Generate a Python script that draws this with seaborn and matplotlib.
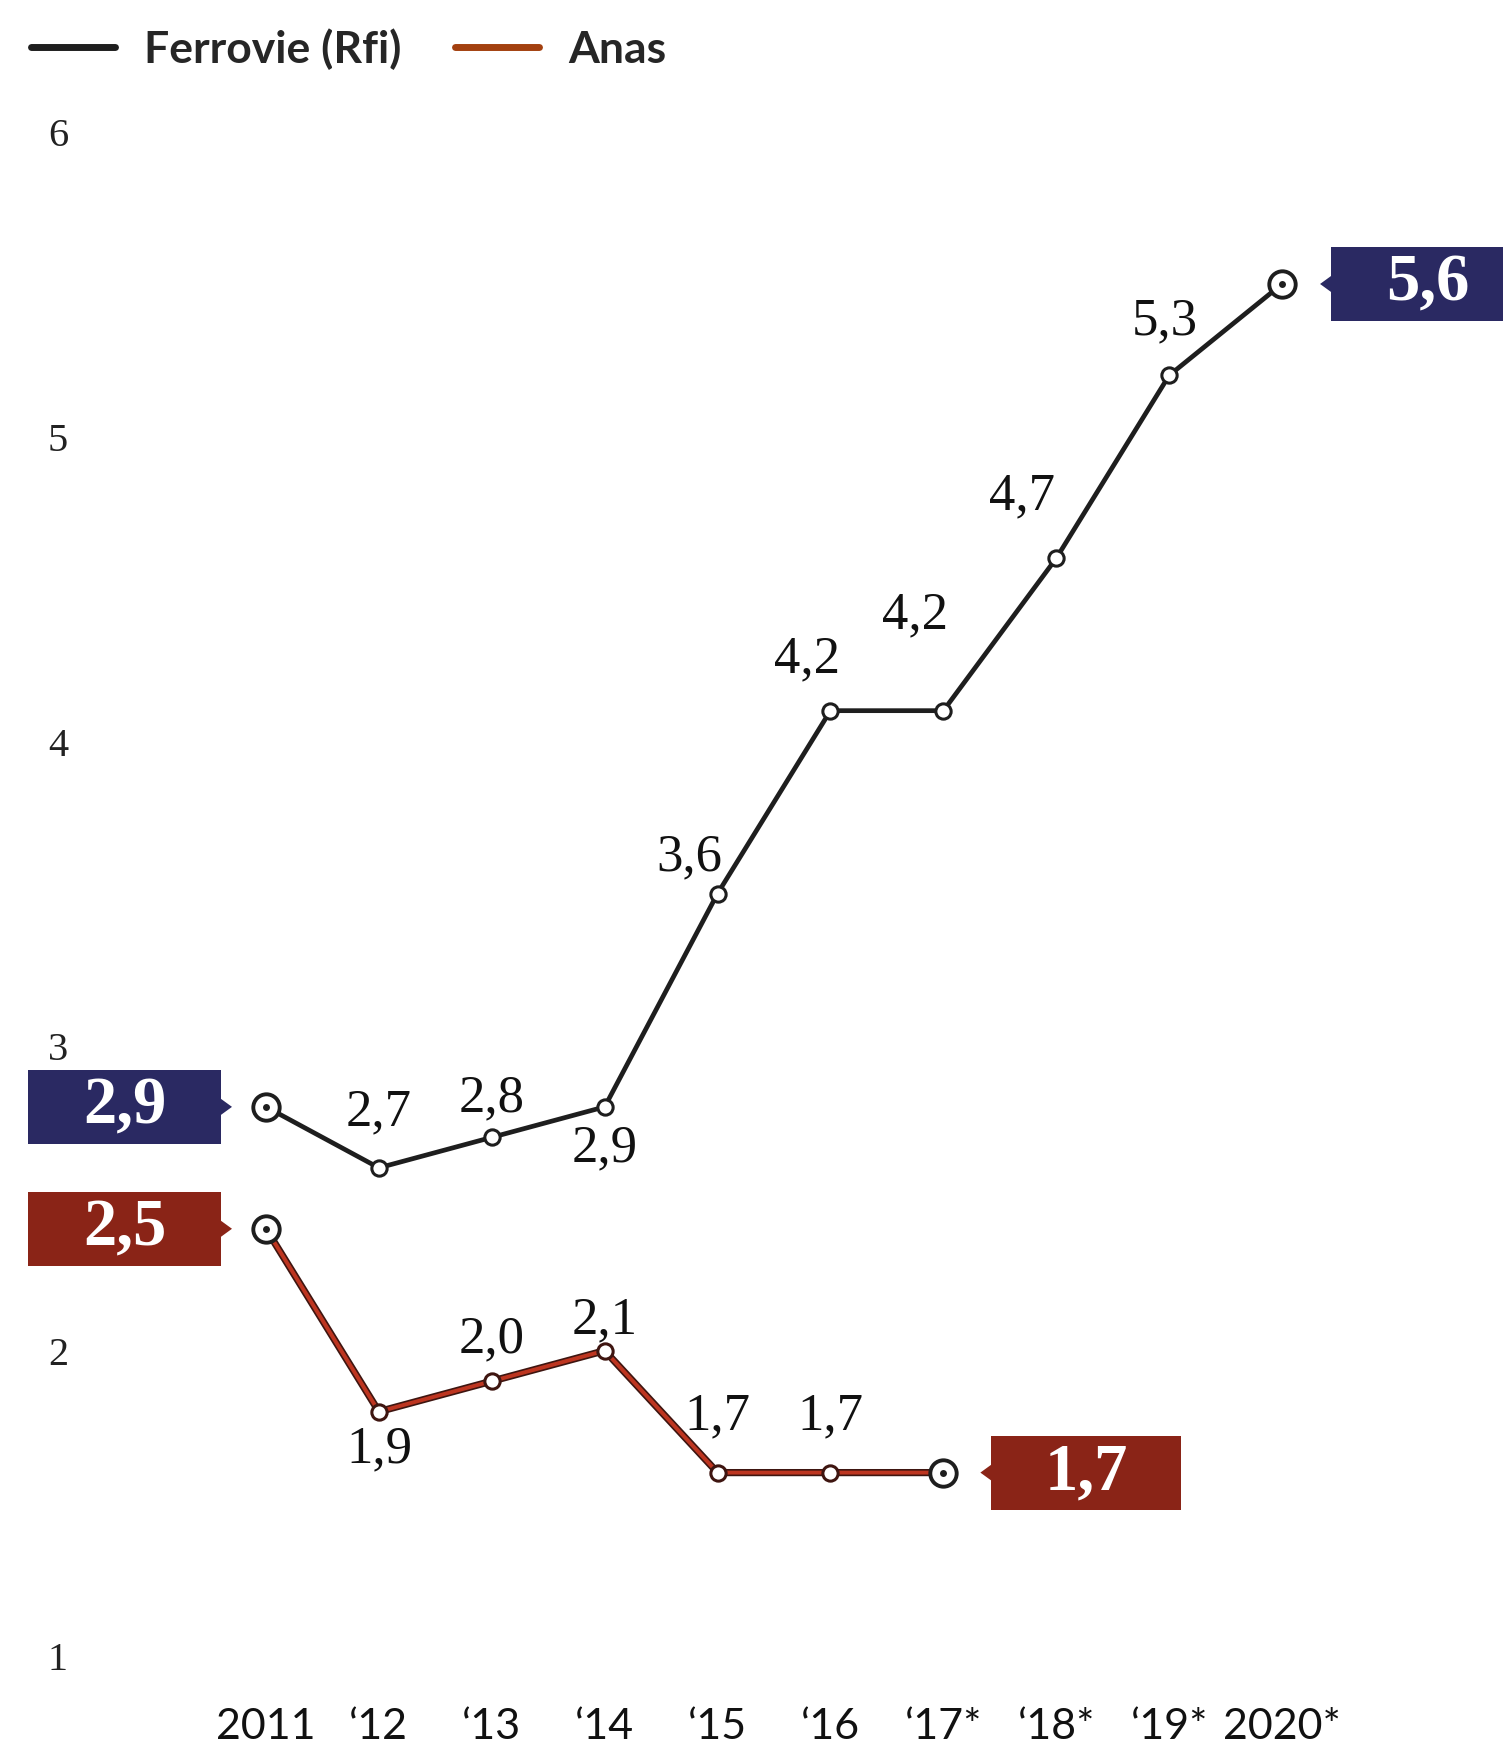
import matplotlib
matplotlib.use("Agg")
import numpy as np
import pandas as pd
import seaborn as sns
import matplotlib.pyplot as plt
import matplotlib.patheffects as pe
from matplotlib.transforms import ScaledTranslation
from matplotlib.patches import Rectangle, Polygon
from matplotlib.lines import Line2D

# ---------------- data ----------------
years = ['2011', '\u201812', '\u201813', '\u201814', '\u201815', '\u201816',
         '\u201817*', '\u201818*', '\u201819*', '2020*']
ferrovie = [2.9, 2.7, 2.8, 2.9, 3.6, 4.2, 4.2, 4.7, 5.3, 5.6]
anas = [2.5, 1.9, 2.0, 2.1, 1.7, 1.7, 1.7]
y_ticks = [1, 2, 3, 4, 5, 6]
series_names = ['Ferrovie (Rfi)', 'Anas']

# ---------------- styles ----------------
DARK = '#1e1e1e'
NAVY = '#2a2962'
RED_BOX = '#8a2417'
ANAS_LINE = '#bd3520'
ANAS_EDGE = '#3e1510'

sns.set_theme(style='white')
plt.rcParams['font.family'] = ['Liberation Serif', 'DejaVu Serif']

df = pd.DataFrame({
    'idx': list(range(len(ferrovie))) + list(range(len(anas))),
    'value': ferrovie + anas,
    'series': [series_names[0]] * len(ferrovie) + [series_names[1]] * len(anas),
})
df_f = df[df['series'] == series_names[0]]
df_a = df[df['series'] == series_names[1]]

fig = plt.figure(figsize=(15.03, 17.54), dpi=100)
ax = fig.add_axes([0, 0.0388, 1, 0.8688])

# Ferrovie line
sns.lineplot(data=df_f, x='idx', y='value', ax=ax, color=DARK, lw=3.4,
             marker='o', markersize=11, markerfacecolor='white',
             markeredgecolor=DARK, markeredgewidth=2.2, legend=False, zorder=3)
# Anas line with dark outline
sns.lineplot(data=df_a, x='idx', y='value', ax=ax, color=ANAS_LINE, lw=2.8,
             legend=False, zorder=3,
             path_effects=[pe.Stroke(linewidth=5.2, foreground=ANAS_EDGE), pe.Normal()])
sns.scatterplot(data=df_a, x='idx', y='value', ax=ax, s=11**2, color='white',
                edgecolor=ANAS_EDGE, linewidth=2.2, legend=False, zorder=4)

# endpoint markers (larger, with center dot)
end_f = df_f.iloc[[0, -1]]
end_a = df_a.iloc[[0, -1]]
ends = pd.concat([end_f, end_a])
sns.scatterplot(data=ends, x='idx', y='value', ax=ax, s=19**2, color='white',
                edgecolor=DARK, linewidth=2.8, legend=False, zorder=5)
sns.scatterplot(data=ends, x='idx', y='value', ax=ax, s=5**2, color=DARK,
                edgecolor=DARK, linewidth=0, legend=False, zorder=6)

def fmt(v):
    return f"{v:.1f}".replace('.', ',')

# data labels (offsets in pixels)
ferrovie_offsets = [None, (0, 55), (0, 39), (0, -42), (-28, 36), (-23, 51),
                    (-28, 95), (-34, 62), (-4, 54), None]
anas_offsets = [None, (0, -38), (0, 42), (0, 30), (0, 56), (0, 56), None]
for vals, offs in ((ferrovie, ferrovie_offsets), (anas, anas_offsets)):
    for i, (v, off) in enumerate(zip(vals, offs)):
        if off is None:
            continue
        ax.annotate(fmt(v), xy=(i, v), xytext=(off[0] * 0.72, off[1] * 0.72),
                    textcoords='offset points', ha='center', va='center',
                    fontsize=38, color='#111111', zorder=7)

# value boxes at endpoints: (values, index, color, side, left_px, width_px)
boxes = [
    (ferrovie, 0, NAVY, 'left', -238, 193),
    (ferrovie, len(ferrovie) - 1, NAVY, 'right', 49, 193),
    (anas, 0, RED_BOX, 'left', -238, 193),
    (anas, len(anas) - 1, RED_BOX, 'right', 48, 190),
]
H = 74
for vals, i, col, side, left, w in boxes:
    v = vals[i]
    tr = fig.dpi_scale_trans + ScaledTranslation(i, v, ax.transData)
    ax.add_patch(Rectangle((left / 100, -H / 200), w / 100, H / 100,
                           facecolor=col, edgecolor='none', transform=tr,
                           zorder=8, clip_on=False))
    if side == 'left':
        edge = left + w
        tri = [(edge / 100, 0.08), ((edge + 11) / 100, 0), (edge / 100, -0.08)]
    else:
        edge = left
        tri = [(edge / 100, 0.08), ((edge - 11) / 100, 0), (edge / 100, -0.08)]
    ax.add_patch(Polygon(tri, closed=True, facecolor=col, edgecolor='none',
                         transform=tr, zorder=8, clip_on=False))
    ax.text((left + w / 2) / 100, 0.0, fmt(v), transform=tr, ha='center',
            va='center', fontsize=48, fontweight='bold', color='white', zorder=9)

# axes
ax.set_xlim(-2.356, 10.957)
ax.set_ylim(1, 6)
ax.set_xticks(range(len(years)))
ax.set_xticklabels(years, fontfamily='Lato', fontsize=31, color='#111111')
ax.set_yticks(y_ticks)
ax.set_yticklabels([str(t) for t in y_ticks], fontsize=29, color='#222222')
ax.tick_params(axis='x', length=0, pad=16)
ax.tick_params(axis='y', length=0, pad=-58 * 0.72)
for lab in ax.get_yticklabels():
    lab.set_ha('center')
    lab.set_transform(lab.get_transform() + ScaledTranslation(0, 0.30, fig.dpi_scale_trans))
ax.set_xlabel('')
ax.set_ylabel('')
for s in ax.spines.values():
    s.set_visible(False)
ax.grid(False)

# legend
handles = [Line2D([], [], color=DARK, lw=5),
           Line2D([], [], color='#a3400f', lw=5)]
fig.legend(handles, series_names, loc='center left',
           bbox_to_anchor=(31 / 1503, 1 - 49 / 1754), ncol=2, frameon=False,
           borderpad=0, borderaxespad=0, handlelength=1.9, handletextpad=0.65,
           columnspacing=1.2,
           prop=dict(family='Lato', weight='bold', size=32))

fig.savefig('out.png', dpi=100)
